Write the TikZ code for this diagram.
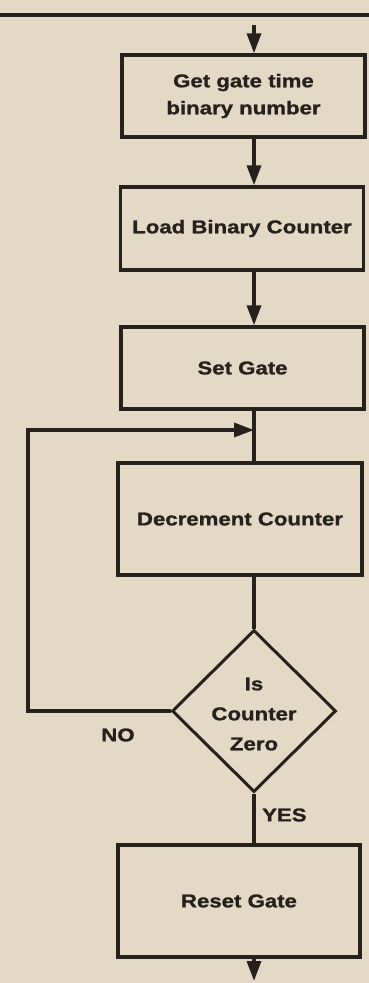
\documentclass[tikz,border=0pt]{standalone}
\usepackage{fontspec}
\newfontfamily\labfont[FakeStretch=1.2,FakeBold=1.2]{Liberation Sans Bold}
\usetikzlibrary{arrows.meta,shapes.geometric}
\definecolor{paper}{RGB}{228,217,196}
\definecolor{ink}{RGB}{38,33,29}
\begin{document}
\begin{tikzpicture}[x=1pt,y=-1pt,
  ln/.style={draw=ink,line width=3.4pt},
  arr/.style={ln,-{Triangle[length=20pt,width=14pt]}},
  lab/.style={text=ink,font=\labfont\fontsize{18.5}{27}\selectfont,inner sep=0pt},
  pbox/.style={ln,lab,minimum width=243pt,inner sep=0pt},
  dia/.style={ln,diamond,minimum width=164pt,minimum height=162pt,inner sep=0pt,line width=3pt}]
\fill[paper] (0,0) rectangle (369,983);
\useasboundingbox (0,0) rectangle (369,983);
\coordinate (xl) at (254,0);
\coordinate (tl) at (0,15);
\coordinate (tr) at (369,15);
\coordinate (st) at (254,25);
\coordinate (en) at (254,981);
\coordinate (lp) at (28,430);
\coordinate (j) at (254,430);
\draw[ln] (tl) -- (tr);
\node[pbox,minimum height=82pt,align=center] (b1) at (243.5,96) {Get gate time\\binary number};
\node[pbox,minimum height=83pt] (b2) at (242,228.5) {Load Binary Counter};
\node[pbox,minimum height=82pt] (b3) at (242.5,368) {Set Gate};
\node[pbox,minimum height=112pt,minimum width=244pt] (b4) at (240,519) {Decrement Counter};
\node[dia] (d) at (254,711) {};
\node[lab,align=center,font=\labfont\fontsize{18.5}{30}\selectfont] (dt) at (254,714) {Is\\Counter\\Zero};
\node[pbox,minimum height=112pt,minimum width=242pt] (b5) at (239,901) {Reset Gate};
\node[lab,anchor=center] (no) at (118,735) {NO};
\node[lab,anchor=west] (yes) at (262,815) {YES};
\draw[arr] (st) -- (b1.north -| xl);
\draw[arr] (b1.south -| xl) -- (b2.north -| xl);
\draw[arr] (b2.south -| xl) -- (b3.north -| xl);
\draw[ln] (b3.south -| xl) -- (b4.north -| xl);
\draw[ln] (b4.south -| xl) -- (d.north);
\draw[arr] (d.west) -| (lp) -- (j);
\draw[ln] (d.south) -- (b5.north -| d.south);
\draw[arr] (b5.south -| xl) -- (en);
\end{tikzpicture}
\end{document}
